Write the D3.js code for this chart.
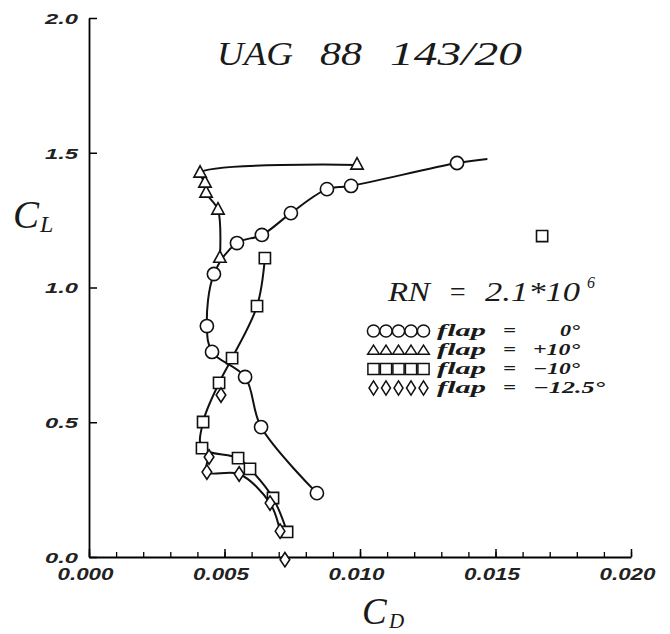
<!DOCTYPE html>
<html>
<head>
<meta charset="utf-8">
<script src="https://cdn.jsdelivr.net/npm/d3@7/dist/d3.min.js"></script>
<style>
  html, body { margin: 0; padding: 0; background: #fff; }
  svg { display: block; }
  .tick text { font-family: "Liberation Sans", Arial, sans-serif; font-style: italic; font-weight: bold; fill: #222; }
  .serif { font-family: "Liberation Serif", "Times New Roman", serif; font-style: italic; fill: #1a1a1a; }
</style>
</head>
<body>
<svg id="chart" width="670" height="634"></svg>
<script>
// Drag polar of the UAG 88 143/20 airfoil at RN = 2.1e6, four flap settings.

// flap = 0 deg (circles)
const flap0CD = [0.00841, 0.00635, 0.00576, 0.00454, 0.00435, 0.00461, 0.00546, 0.00638, 0.00745, 0.00878, 0.00967, 0.01358];
const flap0CL = [0.237, 0.482, 0.668, 0.761, 0.857, 1.050, 1.165, 1.195, 1.276, 1.365, 1.377, 1.462];
// faired curve carried past the last measured point
const flap0TailCD = [0.0147];
const flap0TailCL = [1.477];

// flap = +10 deg (triangles)
const flapP10CD = [0.00483, 0.00476, 0.00432, 0.00428, 0.00410, 0.00989];
const flapP10CL = [1.109, 1.288, 1.351, 1.388, 1.425, 1.455];

// flap = -10 deg (squares)
const flapM10CD = [0.00649, 0.00620, 0.00528, 0.00480, 0.00421, 0.00417, 0.00550, 0.00594, 0.00679, 0.00731];
const flapM10CL = [1.109, 0.931, 0.738, 0.646, 0.501, 0.404, 0.367, 0.327, 0.219, 0.093];
const flapM10LoneCD = [0.01672];
const flapM10LoneCL = [1.191];

// flap = -12.5 deg (diamonds)
const flapM125CD = [0.00443, 0.00435, 0.00554, 0.00668, 0.00705];
const flapM125CL = [0.371, 0.315, 0.308, 0.200, 0.096];
const flapM125LoneCD = [0.00487, 0.00723];
const flapM125LoneCL = [0.601, -0.010];

// axis ticks
const xMajorTicks = [0, 0.005, 0.010, 0.015, 0.020];
const xMinorTicks = d3.range(0, 0.0201, 0.001);
const yTicks = [0, 0.5, 1.0, 1.5, 2.0];

// legend rows
const legendShapes = ["circle", "triangle", "square", "diamond"];
const legendValues = ["0°", "+10°", "−10°", "−12.5°"];

const zip = (a, b) => a.map((v, i) => ({ cd: v, cl: b[i] }));

const svg = d3.select("#chart");
const x = d3.scaleLinear().domain([0, 0.020]).range([89, 631]);
const y = d3.scaleLinear().domain([0, 2.0]).range([557, 18]);

// ---- axes ----
const xMinor = svg.append("g").attr("transform", `translate(0,${y(0)})`)
  .call(d3.axisBottom(x).tickValues(xMinorTicks).tickSize(-5).tickSizeOuter(0).tickFormat(""));
xMinor.select(".domain").attr("stroke-width", 1.8);
xMinor.selectAll(".tick line").attr("stroke-width", 1.3);

const xMajor = svg.append("g").attr("transform", `translate(0,${y(0)})`)
  .call(d3.axisBottom(x).tickValues(xMajorTicks).tickSize(-8).tickSizeOuter(0).tickFormat(d3.format(".3f")));
xMajor.select(".domain").remove();
xMajor.selectAll(".tick line").attr("stroke-width", 1.5);
xMajor.selectAll(".tick text")
  .attr("y", 23).attr("dy", 0).attr("x", -4)
  .attr("font-size", 16)
  .attr("textLength", 56).attr("lengthAdjust", "spacingAndGlyphs");

const yAxis = svg.append("g").attr("transform", `translate(${x(0)},0)`)
  .call(d3.axisLeft(y).tickValues(yTicks).tickSize(-8).tickSizeOuter(0).tickFormat(d3.format(".1f")));
yAxis.select(".domain").attr("stroke-width", 1.8);
yAxis.selectAll(".tick line").attr("stroke-width", 1.5);
yAxis.selectAll(".tick text")
  .attr("x", -11).attr("dy", "0.36em")
  .attr("font-size", 15)
  .attr("textLength", 33).attr("lengthAdjust", "spacingAndGlyphs");

// ---- marker shapes ----
function shapePath(kind, s) {
  switch (kind) {
    case "circle": return d3.symbol().type(d3.symbolCircle).size(Math.PI * s.r * s.r)();
    case "square": return `M${-s.h},${-s.h}H${s.h}V${s.h}H${-s.h}Z`;
    case "triangle": return `M0,${-s.ty}L${s.tw},${s.tb}L${-s.tw},${s.tb}Z`;
    case "diamond": return `M0,${-s.dh}L${s.dw},0L0,${s.dh}L${-s.dw},0Z`;
  }
}
const plotSize = { r: 6.6, h: 5.6, tw: 6.2, ty: 7.2, tb: 4.2, dw: 4.8, dh: 7.2 };
const legendSize = { r: 6.1, h: 5.6, tw: 5.8, ty: 4.8, tb: 4.2, dw: 4.5, dh: 7.2 };

const line = d3.line().x(d => x(d.cd)).y(d => y(d.cl)).curve(d3.curveCatmullRom.alpha(0.5));

const series = [
  { kind: "circle",   pts: zip(flap0CD, flap0CL), tail: zip(flap0TailCD, flap0TailCL), lone: [] },
  { kind: "triangle", pts: zip(flapP10CD, flapP10CL), tail: [], lone: [] },
  { kind: "square",   pts: zip(flapM10CD, flapM10CL), tail: [], lone: zip(flapM10LoneCD, flapM10LoneCL) },
  { kind: "diamond",  pts: zip(flapM125CD, flapM125CL), tail: [], lone: zip(flapM125LoneCD, flapM125LoneCL) }
];

const curves = svg.append("g");
series.forEach(s => {
  curves.append("path")
    .attr("d", line(s.pts.concat(s.tail)))
    .attr("fill", "none").attr("stroke", "#111").attr("stroke-width", 2)
    .attr("stroke-linejoin", "round");
});

const marks = svg.append("g");
series.forEach(s => {
  marks.selectAll(null).data(s.pts.concat(s.lone)).join("path")
    .attr("d", shapePath(s.kind, plotSize))
    .attr("transform", d => `translate(${x(d.cd)},${y(d.cl)})`)
    .attr("fill", "#fff").attr("stroke", "#111").attr("stroke-width", 1.6);
});

// ---- title and annotations ----
const title = svg.append("g").attr("class", "serif").attr("font-size", 34);
[["UAG", 217, 76], ["88", 320, 42], ["143/20", 390, 132]].forEach(([t, x0, w]) => {
  title.append("text").attr("x", x0).attr("y", 65).text(t)
    .attr("textLength", w).attr("lengthAdjust", "spacingAndGlyphs");
});

const rn = svg.append("g").attr("class", "serif").attr("font-size", 28);
[["RN", 388, 42], ["=", 448, 19], ["2.1*10", 485, 95]].forEach(([t, x0, w]) => {
  rn.append("text").attr("x", x0).attr("y", 301).text(t)
    .attr("textLength", w).attr("lengthAdjust", "spacingAndGlyphs");
});
rn.append("text").attr("x", 587).attr("y", 288).attr("font-size", 16).text("6");

// axis titles
const axisTitles = svg.append("g").attr("class", "serif");
axisTitles.append("text").attr("x", 13).attr("y", 228).attr("font-size", 39).text("C");
axisTitles.append("text").attr("x", 40).attr("y", 232).attr("font-size", 24).text("L");
axisTitles.append("text").attr("x", 362).attr("y", 624).attr("font-size", 37).text("C");
axisTitles.append("text").attr("x", 389).attr("y", 628).attr("font-size", 21).text("D");

// ---- legend ----
const legend = svg.append("g");
const rowY = i => 331 + i * 19;
legendShapes.forEach((kind, i) => {
  const cy = rowY(i);
  d3.range(5).forEach(k => {
    legend.append("path")
      .attr("d", shapePath(kind, legendSize))
      .attr("transform", `translate(${373.5 + k * 12.5},${cy})`)
      .attr("fill", "#fff").attr("stroke", "#111").attr("stroke-width", 1.5);
  });
  const row = legend.append("g").attr("class", "serif").attr("font-size", 16.3).attr("font-weight", "bold");
  row.append("text").attr("x", 437).attr("y", cy + 4.5).text("flap")
    .attr("textLength", 49).attr("lengthAdjust", "spacingAndGlyphs");
  row.append("text").attr("x", 503).attr("y", cy + 4.5).text("=")
    .attr("textLength", 13).attr("lengthAdjust", "spacingAndGlyphs");
  const v = legendValues[i];
  row.append("text").attr("x", v === "0°" ? 560 : 533).attr("y", cy + 4.5).text(v)
    .attr("textLength", v === "0°" ? 20 : (v === "−12.5°" ? 72 : 47)).attr("lengthAdjust", "spacingAndGlyphs");
});
</script>
</body>
</html>
